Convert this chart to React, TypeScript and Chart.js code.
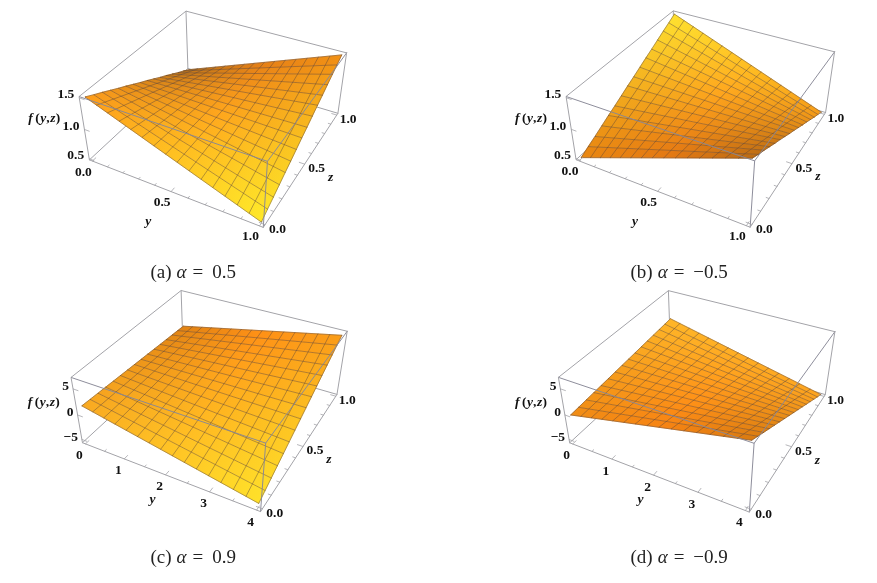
import React, { useEffect, useRef } from "react";
import { Chart, registerables } from "chart.js";

Chart.register(...registerables);

const mesh01 = [0, 0.067, 0.133, 0.2, 0.267, 0.333, 0.4, 0.467, 0.533, 0.6, 0.667, 0.733, 0.8, 0.867, 0.933, 1];
const mesh04 = [0, 0.267, 0.533, 0.8, 1.067, 1.333, 1.6, 1.867, 2.133, 2.4, 2.667, 2.933, 3.2, 3.467, 3.733, 4];

// f read along the four sides of each surface
const aAtZ0 = [1.5, 1.43, 1.37, 1.3, 1.23, 1.17, 1.1, 1.03, 0.97, 0.9, 0.83, 0.77, 0.7, 0.63, 0.57, 0.5];
const aAtZ1 = [0.5, 0.57, 0.63, 0.7, 0.77, 0.83, 0.9, 0.97, 1.03, 1.1, 1.17, 1.23, 1.3, 1.37, 1.43, 1.5];
const aAtY0 = [1.5, 1.43, 1.37, 1.3, 1.23, 1.17, 1.1, 1.03, 0.97, 0.9, 0.83, 0.77, 0.7, 0.63, 0.57, 0.5];
const aAtY1 = [0.5, 0.57, 0.63, 0.7, 0.77, 0.83, 0.9, 0.97, 1.03, 1.1, 1.17, 1.23, 1.3, 1.37, 1.43, 1.5];

const bAtZ0 = [0.5, 0.57, 0.63, 0.7, 0.77, 0.83, 0.9, 0.97, 1.03, 1.1, 1.17, 1.23, 1.3, 1.37, 1.43, 1.5];
const bAtZ1 = [1.5, 1.43, 1.37, 1.3, 1.23, 1.17, 1.1, 1.03, 0.97, 0.9, 0.83, 0.77, 0.7, 0.63, 0.57, 0.5];
const bAtY0 = [0.5, 0.57, 0.63, 0.7, 0.77, 0.83, 0.9, 0.97, 1.03, 1.1, 1.17, 1.23, 1.3, 1.37, 1.43, 1.5];
const bAtY1 = [1.5, 1.43, 1.37, 1.3, 1.23, 1.17, 1.1, 1.03, 0.97, 0.9, 0.83, 0.77, 0.7, 0.63, 0.57, 0.5];

const cAtZ0 = [1.6, 1.17, 0.73, 0.3, -0.13, -0.57, -1, -1.43, -1.87, -2.3, -2.73, -3.17, -3.6, -4.03, -4.47, -4.9];
const cAtZ1 = [0.1, 0.53, 0.95, 1.38, 1.81, 2.23, 2.66, 3.09, 3.51, 3.94, 4.37, 4.79, 5.22, 5.65, 6.07, 6.5];
const cAtY0 = [1.6, 1.5, 1.4, 1.3, 1.2, 1.1, 1, 0.9, 0.8, 0.7, 0.6, 0.5, 0.4, 0.3, 0.2, 0.1];
const cAtY1 = [-4.9, -4.14, -3.38, -2.62, -1.86, -1.1, -0.34, 0.42, 1.18, 1.94, 2.7, 3.46, 4.22, 4.98, 5.74, 6.5];

const dAtZ0 = [-0.2, 0.27, 0.75, 1.22, 1.69, 2.17, 2.64, 3.11, 3.59, 4.06, 4.53, 5.01, 5.48, 5.95, 6.43, 6.9];
const dAtZ1 = [1.7, 1.22, 0.74, 0.26, -0.22, -0.7, -1.18, -1.66, -2.14, -2.62, -3.1, -3.58, -4.06, -4.54, -5.02, -5.5];
const dAtY0 = [-0.2, -0.07, 0.05, 0.18, 0.31, 0.43, 0.56, 0.69, 0.81, 0.94, 1.07, 1.19, 1.32, 1.45, 1.57, 1.7];
const dAtY1 = [6.9, 6.07, 5.25, 4.42, 3.59, 2.77, 1.94, 1.11, 0.29, -0.54, -1.37, -2.19, -3.02, -3.85, -4.67, -5.5];

const yTicks01 = [0, 0.5, 1];
const yLabels01 = ["0.0", "0.5", "1.0"];
const yMinor01 = [0.1, 0.2, 0.3, 0.4, 0.6, 0.7, 0.8, 0.9];
const yTicks04 = [0, 1, 2, 3, 4];
const yLabels04 = ["0", "1", "2", "3", "4"];
const yMinor04 = [0.5, 1.5, 2.5, 3.5];
const zTicks = [0, 0.5, 1];
const zLabels = ["0.0", "0.5", "1.0"];
const zMinor = [0.1, 0.2, 0.3, 0.4, 0.6, 0.7, 0.8, 0.9];
const fTicks15 = [0.5, 1, 1.5];
const fLabels15 = ["0.5", "1.0", "1.5"];
const fTicks5 = [-5, 0, 5];
const fLabels5 = ["\u22125", "0", "5"];

type P = { x: number; y: number };
type Panel = any;

const panels: Panel[] = [
  {
    rect: [0, 0, 438, 285], kind: "a", alpha: "0.5", capX: 150.5, capY: 278,
    yMesh: mesh01, atZ0: aAtZ0, atZ1: aAtZ1, atY0: aAtY0, atY1: aAtY1,
    yBox: [-0.02, 1.02], zBox: [-0.02, 1.02], fBox: [0.48, 1.52],
    yT: yTicks01, yL: yLabels01, yM: yMinor01, fT: fTicks15, fL: fLabels15,
    colors: { L: [255, 158, 26], F: [255, 234, 42], R: [240, 142, 20], B: [184, 112, 24] },
    corners: { lb: [89, 159.3], fb: [262.7, 227.3], rb: [338.3, 113.3], bb: [188.3, 69], lt: [79.3, 97], ft: [268.3, 161.7], rt: [346, 52.7], bt: [185.7, 10.7] },
    yTitle: [-28, 28], fTitle: [-3, 0], yLab: [-9, 11], fLab: [-5, -3],
  },
  {
    rect: [438, 0, 439, 285], kind: "b", alpha: "\u22120.5", capX: 630.5, capY: 278,
    yMesh: mesh01, atZ0: bAtZ0, atZ1: bAtZ1, atY0: bAtY0, atY1: bAtY1,
    yBox: [-0.02, 1.02], zBox: [-0.02, 1.02], fBox: [0.48, 1.52],
    yT: yTicks01, yL: yLabels01, yM: yMinor01, fT: fTicks15, fL: fLabels15,
    colors: { L: [232, 132, 16], F: [186, 106, 20], R: [248, 158, 24], B: [255, 226, 48] },
    corners: { lb: [576, 159.3], fb: [750, 227.3], rb: [825.7, 112.7], bb: [675, 68.3], lt: [566, 97], ft: [755, 160.7], rt: [834.3, 51.7], bt: [673.3, 10.7] },
    yTitle: [-28, 28], fTitle: [-3, 0], yLab: [-9, 11], fLab: [-5, -3],
  },
  {
    rect: [0, 285, 438, 298], kind: "c", alpha: "0.9", capX: 150.5, capY: 563,
    yMesh: mesh04, atZ0: cAtZ0, atZ1: cAtZ1, atY0: cAtY0, atY1: cAtY1,
    yBox: [-0.08, 4.08], zBox: [-0.02, 1.02], fBox: [-5.7, 7.1],
    yT: yTicks04, yL: yLabels04, yM: yMinor04, fT: fTicks5, fL: fLabels5,
    colors: { L: [250, 170, 33], F: [255, 226, 42], R: [250, 156, 24], B: [224, 130, 18] },
    corners: { lb: [81.7, 441.7], fb: [260.7, 511.7], rb: [337.3, 393.3], bb: [183.3, 351.7], lt: [71.7, 377.7], ft: [265.7, 444], rt: [346.7, 331.7], bt: [181, 289.3] },
    yTitle: [-19, 22], fTitle: [4, 2], yLab: [-6, 12], fLab: [-4, -2],
  },
  {
    rect: [438, 285, 439, 298], kind: "d", alpha: "\u22120.9", capX: 630.5, capY: 563,
    yMesh: mesh04, atZ0: dAtZ0, atZ1: dAtZ1, atY0: dAtY0, atY1: dAtY1,
    yBox: [-0.08, 4.08], zBox: [-0.02, 1.02], fBox: [-5.7, 7.1],
    yT: yTicks04, yL: yLabels04, yM: yMinor04, fT: fTicks5, fL: fLabels5,
    colors: { L: [240, 140, 20], F: [216, 122, 16], R: [255, 165, 31], B: [255, 182, 40] },
    corners: { lb: [569, 441.7], fb: [749.3, 512.3], rb: [825.7, 393.3], bb: [670.7, 351.7], lt: [559, 377.7], ft: [754.3, 444], rt: [834.3, 332.3], bt: [668.3, 289.3] },
    yTitle: [-19, 22], fTitle: [4, 2], yLab: [-6, 12], fLab: [-4, -2],
  },
];

function solve(A: number[][], b: number[]): number[] {
  const n = b.length;
  const M = A.map((r, i) => [...r, b[i]]);
  for (let c = 0; c < n; c++) {
    let p = c;
    for (let r = c + 1; r < n; r++) if (Math.abs(M[r][c]) > Math.abs(M[p][c])) p = r;
    [M[c], M[p]] = [M[p], M[c]];
    for (let r = 0; r < n; r++) {
      if (r === c) continue;
      const k = M[r][c] / M[c][c];
      for (let j = c; j <= n; j++) M[r][j] -= k * M[c][j];
    }
  }
  return M.map((r, i) => r[n] / r[i]);
}

// least-squares camera from the eight box corners
function camera(p: Panel) {
  const c = p.corners;
  const pts: [number, number, number, number[]][] = [
    [0, 0, 0, c.lb], [1, 0, 0, c.fb], [1, 1, 0, c.rb], [0, 1, 0, c.bb],
    [0, 0, 1, c.lt], [1, 0, 1, c.ft], [1, 1, 1, c.rt], [0, 1, 1, c.bt],
  ];
  const ox = p.rect[0], oy = p.rect[1], S = 300;
  const rows: number[][] = [], rhs: number[] = [];
  for (const [u, v, w, s] of pts) {
    const sx = (s[0] - ox) / S, sy = (s[1] - oy) / S;
    rows.push([u, v, w, 1, 0, 0, 0, 0, -sx * u, -sx * v, -sx * w]); rhs.push(sx);
    rows.push([0, 0, 0, 0, u, v, w, 1, -sy * u, -sy * v, -sy * w]); rhs.push(sy);
  }
  const N = 11;
  const ATA = Array.from({ length: N }, (_, i) => Array.from({ length: N }, (_, j) => rows.reduce((a, r) => a + r[i] * r[j], 0)));
  const ATb = Array.from({ length: N }, (_, i) => rows.reduce((a, r, k) => a + r[i] * rhs[k], 0));
  const h = solve(ATA, ATb);
  return (y: number, z: number, f: number): P => {
    const u = (y - p.yBox[0]) / (p.yBox[1] - p.yBox[0]);
    const v = (z - p.zBox[0]) / (p.zBox[1] - p.zBox[0]);
    const w = (f - p.fBox[0]) / (p.fBox[1] - p.fBox[0]);
    const d = h[8] * u + h[9] * v + h[10] * w + 1;
    return {
      x: ox + (S * (h[0] * u + h[1] * v + h[2] * w + h[3])) / d,
      y: oy + (S * (h[4] * u + h[5] * v + h[6] * w + h[7])) / d,
    };
  };
}

const mix = (a: number[], b: number[], t: number) => a.map((v, i) => v + (b[i] - v) * t);
const css = (c: number[]) => `rgb(${c.map((v) => Math.min(255, Math.round(v))).join(",")})`;
const BOX_COLOR = "#a3a3a8";
const FRONT_BOX = "rgba(135,135,150,0.95)";
const MESH_COLOR = "rgba(90,68,58,0.6)";

function buildDatasets(p: Panel) {
  const proj = camera(p);
  const [y0, y1] = [p.yMesh[0], p.yMesh[15]];
  const [zb0, zb1] = p.zBox, [yb0, yb1] = p.yBox, [fb0, fb1] = p.fBox;
  const ds: any[] = [];
  const line = (pts: P[], color: string, width: number) =>
    ds.push({ data: pts, showLine: true, borderColor: color, borderWidth: width, pointRadius: 0, fill: false, tension: 0, clip: false, borderCapStyle: "round" });

  const C = {
    lb: proj(yb0, zb0, fb0), fb: proj(yb1, zb0, fb0), rb: proj(yb1, zb1, fb0), bb: proj(yb0, zb1, fb0),
    lt: proj(yb0, zb0, fb1), ft: proj(yb1, zb0, fb1), rt: proj(yb1, zb1, fb1), bt: proj(yb0, zb1, fb1),
  };
  // back of the box
  line([C.bt, C.bb], BOX_COLOR, 1);
  line([C.lb, C.bb, C.rb], BOX_COLOR, 1);
  line([C.lt, C.bt, C.rt], BOX_COLOR, 1);

  // surface strips between neighbouring z mesh lines
  for (let j = 0; j < 15; j++) {
    const t0 = (j + 0.5) / 15;
    const startC = mix(p.colors.L, p.colors.B, t0);
    const endC = mix(p.colors.F, p.colors.R, t0);
    const midC = mix(startC, endC, 0.5);
    midC[0] += 18;
    const start = css(startC), end = css(endC), middle = css(midC);
    const z0 = mesh01[j], z1 = mesh01[j + 1];
    const a = proj(y0, z0, p.atY0[j]), b = proj(y1, z0, p.atY1[j]);
    const c = proj(y1, z1, p.atY1[j + 1]), d = proj(y0, z1, p.atY0[j + 1]);
    const paint = (ctx: any) => {
      const chart = ctx.chart;
      if (!chart.chartArea) return start;
      const sx = chart.scales.x, sy = chart.scales.y;
      const g = chart.ctx.createLinearGradient(
        sx.getPixelForValue((a.x + d.x) / 2), sy.getPixelForValue((a.y + d.y) / 2),
        sx.getPixelForValue((b.x + c.x) / 2), sy.getPixelForValue((b.y + c.y) / 2));
      g.addColorStop(0, start);
      g.addColorStop(0.5, middle);
      g.addColorStop(1, end);
      return g;
    };
    ds.push({ data: [a, b, c, d, a], showLine: true, fill: "shape", backgroundColor: paint, borderColor: paint, borderWidth: 0.7, pointRadius: 0, tension: 0, clip: false });
  }
  // mesh
  for (let j = 0; j < 16; j++) line([proj(y0, mesh01[j], p.atY0[j]), proj(y1, mesh01[j], p.atY1[j])], MESH_COLOR, 0.75);
  for (let i = 0; i < 16; i++) line([proj(p.yMesh[i], 0, p.atZ0[i]), proj(p.yMesh[i], 1, p.atZ1[i])], MESH_COLOR, 0.75);

  // front of the box
  line([C.lt, C.ft, C.rt], FRONT_BOX, 1);
  line([C.ft, C.fb], FRONT_BOX, 1);
  line([C.lt, C.lb, C.fb, C.rb, C.rt], BOX_COLOR, 1);

  // ticks
  const len = 0.03;
  const yTick = (v: number, k: number) => line([proj(v, zb0, fb0), proj(v, zb0 + len * k, fb0)], BOX_COLOR, 0.8);
  const zTick = (v: number, k: number) => line([proj(yb1, v, fb0), proj(yb1 - (yb1 - yb0) * len * k, v, fb0)], BOX_COLOR, 0.8);
  const fTick = (v: number) => line([proj(yb0, zb0, v), proj(yb0 + (yb1 - yb0) * len, zb0, v)], BOX_COLOR, 0.8);
  p.yT.forEach((v: number) => yTick(v, 1));
  p.yM.forEach((v: number) => yTick(v, 0.5));
  zTicks.forEach((v) => zTick(v, 1));
  zMinor.forEach((v) => zTick(v, 0.5));
  p.fT.forEach((v: number) => fTick(v));

  ds.forEach((d, i) => (d.order = ds.length - i));
  return { ds, proj, C };
}

const TICK_FONT = "bold 13.5px 'Liberation Serif'";
const TITLE_FONT = "italic bold 13.5px 'Liberation Serif'";

function textPlugin(p: Panel, proj: any, C: any) {
  return {
    id: "labels" + p.kind,
    afterDraw(chart: any) {
      const ctx = chart.ctx;
      const sx = chart.scales.x, sy = chart.scales.y;
      const px = (q: P) => ({ x: sx.getPixelForValue(q.x), y: sy.getPixelForValue(q.y) });
      const [yb0, yb1] = p.yBox, [zb0] = p.zBox, [fb0] = p.fBox;
      const put = (t: string, q: P, dx: number, dy: number, align: CanvasTextAlign, font: string) => {
        const a = px(q);
        ctx.font = font;
        ctx.textAlign = align;
        ctx.textBaseline = "middle";
        ctx.fillStyle = "#111";
        ctx.fillText(t, a.x + dx, a.y + dy);
      };
      ctx.save();
      p.yT.forEach((v: number, i: number) => put(p.yL[i], proj(v, zb0, fb0), p.yLab[0], p.yLab[1], "center", TICK_FONT));
      zTicks.forEach((v, i) => put(zLabels[i], proj(yb1, v, fb0), 4 - v, 5 - v, "left", TICK_FONT));
      p.fT.forEach((v: number, i: number) => put(p.fL[i], proj(yb0, zb0, v), p.fLab[0], p.fLab[1], "right", TICK_FONT));
      const mid = (a: P, b: P) => ({ x: (a.x + b.x) / 2, y: (a.y + b.y) / 2 });
      put("y", mid(C.lb, C.fb), p.yTitle[0], p.yTitle[1], "center", TITLE_FONT);
      put("z", mid(C.fb, C.rb), 30, 7, "center", TITLE_FONT);
      const fm0 = px(mid(C.lb, C.lt));
      const fm = { x: fm0.x + p.fTitle[0], y: fm0.y + p.fTitle[1] };
      ctx.textBaseline = "middle";
      ctx.fillStyle = "#111";
      ctx.textAlign = "left";
      const ROMAN = "bold 13.5px 'Liberation Serif'";
      ctx.font = TITLE_FONT;
      ctx.fillText("f", fm.x - 53, fm.y - 10);
      ctx.font = ROMAN;
      ctx.fillText("(", fm.x - 46, fm.y - 10);
      ctx.font = TITLE_FONT;
      ctx.fillText("y", fm.x - 41, fm.y - 10);
      ctx.font = ROMAN;
      ctx.fillText(",", fm.x - 35, fm.y - 10);
      ctx.font = TITLE_FONT;
      ctx.fillText("z", fm.x - 31, fm.y - 10);
      ctx.font = ROMAN;
      ctx.fillText(")", fm.x - 25.5, fm.y - 10);

      // caption
      ctx.textBaseline = "alphabetic";
      ctx.fillStyle = "#222";
      const cap = px({ x: p.capX, y: p.capY });
      let x = cap.x;
      const run = (t: string, font: string, gap: number) => {
        ctx.font = font;
        ctx.fillText(t, x, cap.y);
        x += ctx.measureText(t).width + gap;
      };
      const R = "19px 'Liberation Serif'";
      run(`(${p.kind})`, R, 5);
      run("\u03b1", "italic 19px 'Liberation Serif'", 6);
      run("=", R, 9);
      run(p.alpha, R, 0);
      ctx.restore();
    },
  };
}

function PanelChart({ panel }: { panel: Panel }) {
  const ref = useRef<HTMLCanvasElement | null>(null);
  useEffect(() => {
    const { ds, proj, C } = buildDatasets(panel);
    const [x, y, w, h] = panel.rect;
    const chart = new Chart(ref.current as HTMLCanvasElement, {
      type: "scatter",
      data: { datasets: ds },
      options: {
        animation: false,
        responsive: false,
        devicePixelRatio: 1,
        layout: { padding: 0 },
        plugins: { legend: { display: false }, tooltip: { enabled: false }, title: { display: false } },
        scales: {
          x: { type: "linear", min: x, max: x + w, display: false },
          y: { type: "linear", min: y, max: y + h, reverse: true, display: false },
        },
      } as any,
      plugins: [textPlugin(panel, proj, C)],
    } as any);
    return () => chart.destroy();
  }, [panel]);
  const [x, y, w, h] = panel.rect;
  return <canvas ref={ref} width={w} height={h} style={{ position: "absolute", left: x, top: y, width: w, height: h }} />;
}

export default function App() {
  return (
    <div style={{ position: "absolute", left: 0, top: 0, width: 877, height: 583, background: "#fff", overflow: "hidden" }}>
      {panels.map((p) => (
        <PanelChart key={p.kind} panel={p} />
      ))}
    </div>
  );
}
